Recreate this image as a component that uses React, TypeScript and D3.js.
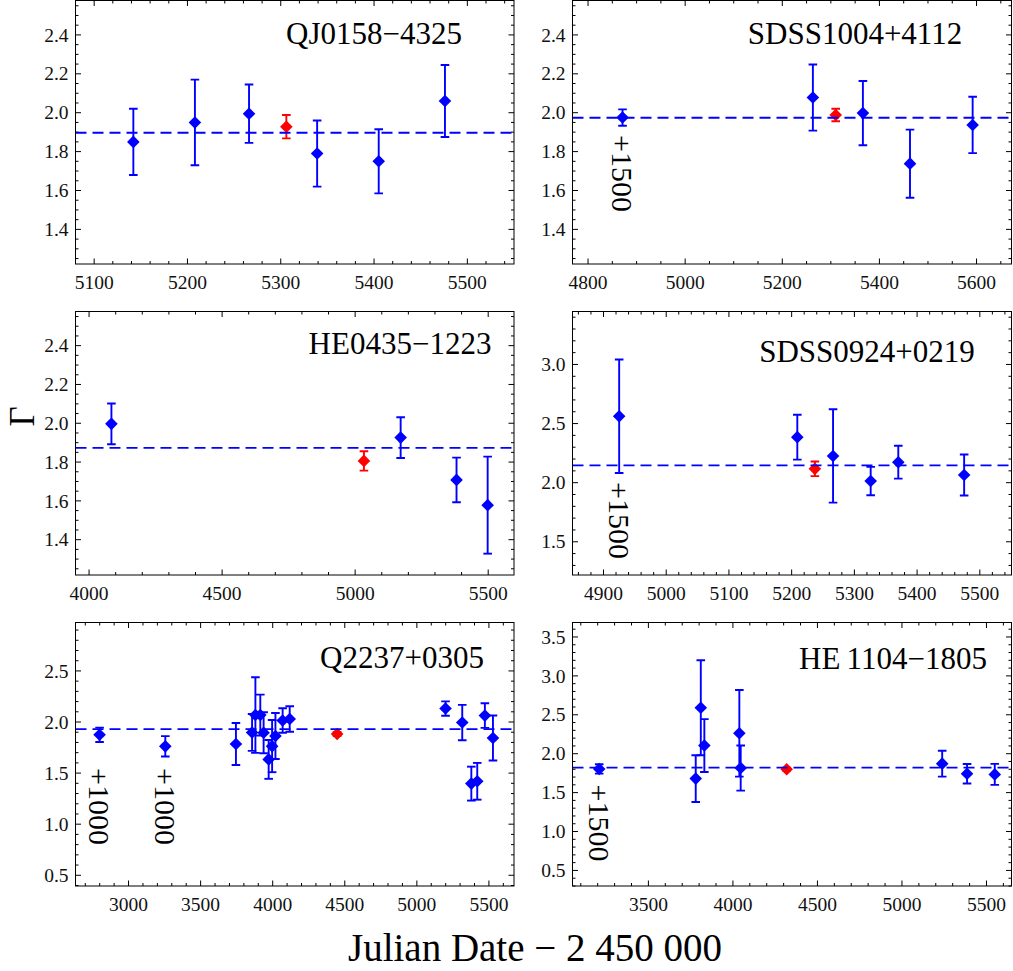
import React from "react";
import * as d3 from "d3";

// ---------- DATA ----------
// QJ0158-4325
const qj0158Date = [5142, 5208, 5266, 5339, 5405, 5476];
const qj0158Gamma = [1.85, 1.95, 1.995, 1.79, 1.75, 2.06];
const qj0158Err = [0.17, 0.22, 0.15, 0.17, 0.165, 0.185];
const qj0158Red = { date: 5306, gamma: 1.928, err: 0.06 };
const qj0158Mean = 1.897;

// SDSS1004+4112
const sdss1004Date = [4871, 5263, 5366, 5463, 5592];
const sdss1004Gamma = [1.975, 2.078, 1.998, 1.738, 1.937];
const sdss1004Err = [0.042, 0.17, 0.165, 0.175, 0.145];
const sdss1004Red = { date: 5310, gamma: 1.988, err: 0.032 };
const sdss1004Mean = 1.974;

// HE0435-1223
const he0435Date = [4084, 5171, 5381, 5498];
const he0435Gamma = [1.997, 1.926, 1.708, 1.578];
const he0435Err = [0.105, 0.105, 0.115, 0.25];
const he0435Red = { date: 5033, gamma: 1.806, err: 0.05 };
const he0435Mean = 1.873;

// SDSS0924+0219
const sdss0924Date = [4925, 5209, 5266, 5326, 5370, 5475];
const sdss0924Gamma = [2.562, 2.385, 2.226, 2.014, 2.173, 2.065];
const sdss0924Err = [0.48, 0.19, 0.395, 0.12, 0.139, 0.173];
const sdss0924Red = { date: 5237, gamma: 2.117, err: 0.062 };
const sdss0924Mean = 2.147;

// Q2237+0305
const q2237Date = [2799, 3255, 3745, 3857, 3880, 3914, 3937, 3972, 3996, 4019, 4069, 4118, 5199, 5315, 5378, 5419, 5472, 5528];
const q2237Gamma = [1.875, 1.762, 1.785, 1.898, 2.068, 2.068, 1.895, 1.634, 1.764, 1.863, 2.015, 2.03, 2.132, 1.995, 1.397, 1.42, 2.063, 1.844];
const q2237Err = [0.07, 0.1, 0.205, 0.18, 0.37, 0.2, 0.2, 0.19, 0.255, 0.225, 0.12, 0.125, 0.07, 0.173, 0.166, 0.18, 0.12, 0.22];
const q2237Red = { date: 4447, gamma: 1.883, err: 0.02 };
const q2237Mean = 1.93;

// HE 1104-1805
const he1104Date = [3209, 3780, 3810, 3831, 4038, 4046, 5238, 5385, 5549];
const he1104Gamma = [1.804, 1.68, 2.59, 2.105, 2.262, 1.816, 1.872, 1.743, 1.734];
const he1104Err = [0.06, 0.3, 0.61, 0.34, 0.557, 0.29, 0.166, 0.125, 0.135];
const he1104Red = { date: 4318, gamma: 1.8, err: 0.02 };
const he1104Mean = 1.82;

// tick values
const ticksX1 = [5100, 5200, 5300, 5400, 5500];
const ticksX2 = [4800, 5000, 5200, 5400, 5600];
const ticksX3 = [4000, 4500, 5000, 5500];
const ticksX4 = [4900, 5000, 5100, 5200, 5300, 5400, 5500];
const ticksX5 = [3000, 3500, 4000, 4500, 5000, 5500];
const ticksX6 = [3500, 4000, 4500, 5000, 5500];
const ticksYA = [1.4, 1.6, 1.8, 2.0, 2.2, 2.4];
const ticksY4 = [1.5, 2.0, 2.5, 3.0];
const ticksY5 = [0.5, 1.0, 1.5, 2.0, 2.5];
const ticksY6 = [0.5, 1.0, 1.5, 2.0, 2.5, 3.0, 3.5];

// offset annotations (data coords)
const notes2 = [{ date: 4871, gamma: 1.687, text: "+1500" }];
const notes4 = [{ date: 4925, gamma: 1.68, text: "+1500" }];
const notes5 = [
  { date: 2799, gamma: 1.173, text: "+1000" },
  { date: 3255, gamma: 1.173, text: "+1000" },
];
const notes6 = [{ date: 3209, gamma: 1.109, text: "+1500" }];

// ---------- LAYOUT ----------
const W = 1013;
const H = 971;
const COLS = [
  [75.5, 514],
  [572.5, 1011.5],
];
const ROWS = [
  [0.5, 264],
  [311.5, 575],
  [622.5, 886],
];
const FONT = "Liberation Serif, Times New Roman, serif";
const BLUE = "#0000ff";
const RED = "#ff0000";

type Note = { date: number; gamma: number; text: string };
type Spec = {
  label: string;
  labelX: number;
  labelBase: number;
  col: number;
  row: number;
  xDomain: [number, number];
  yDomain: [number, number];
  xTicks: number[];
  xMinor: number;
  yTicks: number[];
  yMinor: number;
  dates: number[];
  gamma: number[];
  err: number[];
  red: { date: number; gamma: number; err: number };
  mean: number;
  notes: Note[];
};

const specs: Spec[] = [
  {
    label: "QJ0158\u22124325", labelX: 374, labelBase: 44, col: 0, row: 0,
    xDomain: [5080, 5550], yDomain: [1.222, 2.577],
    xTicks: ticksX1, xMinor: 20, yTicks: ticksYA, yMinor: 0.05,
    dates: qj0158Date, gamma: qj0158Gamma, err: qj0158Err, red: qj0158Red, mean: qj0158Mean, notes: [],
  },
  {
    label: "SDSS1004+4112", labelX: 855, labelBase: 44, col: 1, row: 0,
    xDomain: [4768, 5672], yDomain: [1.222, 2.577],
    xTicks: ticksX2, xMinor: 50, yTicks: ticksYA, yMinor: 0.05,
    dates: sdss1004Date, gamma: sdss1004Gamma, err: sdss1004Err, red: sdss1004Red, mean: sdss1004Mean, notes: notes2,
  },
  {
    label: "HE0435\u22121223", labelX: 400, labelBase: 354, col: 0, row: 1,
    xDomain: [3949, 5597], yDomain: [1.218, 2.576],
    xTicks: ticksX3, xMinor: 100, yTicks: ticksYA, yMinor: 0.05,
    dates: he0435Date, gamma: he0435Gamma, err: he0435Err, red: he0435Red, mean: he0435Mean, notes: [],
  },
  {
    label: "SDSS0924+0219", labelX: 867, labelBase: 361.5, col: 1, row: 1,
    xDomain: [4850.6, 5550.5], yDomain: [1.219, 3.448],
    xTicks: ticksX4, xMinor: 20, yTicks: ticksY4, yMinor: 0.1,
    dates: sdss0924Date, gamma: sdss0924Gamma, err: sdss0924Err, red: sdss0924Red, mean: sdss0924Mean, notes: notes4,
  },
  {
    label: "Q2237+0305", labelX: 402, labelBase: 667.5, col: 0, row: 2,
    xDomain: [2632, 5674], yDomain: [0.395, 2.974],
    xTicks: ticksX5, xMinor: 100, yTicks: ticksY5, yMinor: 0.1,
    dates: q2237Date, gamma: q2237Gamma, err: q2237Err, red: q2237Red, mean: q2237Mean, notes: notes5,
  },
  {
    label: "HE\u20091104\u22121805", labelX: 893, labelBase: 669, col: 1, row: 2,
    xDomain: [3051, 5648], yDomain: [0.3, 3.686],
    xTicks: ticksX6, xMinor: 100, yTicks: ticksY6, yMinor: 0.1,
    dates: he1104Date, gamma: he1104Gamma, err: he1104Err, red: he1104Red, mean: he1104Mean, notes: notes6,
  },
];

function minorValues(domain: [number, number], step: number, majors: number[]) {
  const out: number[] = [];
  const start = Math.ceil(domain[0] / step);
  const end = Math.floor(domain[1] / step);
  for (let i = start; i <= end; i++) {
    const v = i * step;
    if (majors.some((m) => Math.abs(m - v) < step * 0.01)) continue;
    out.push(v);
  }
  return out;
}

const diamond = (r: number) => `M0,${-r}L${r},0L0,${r}L${-r},0Z`;

function Point({ cx, y, lo, hi, color }: { cx: number; y: number; lo: number; hi: number; color: string }) {
  const cap = 4.3;
  return (
    <g>
      <line x1={cx} x2={cx} y1={lo} y2={hi} stroke={color} strokeWidth={1.9} />
      <line x1={cx - cap} x2={cx + cap} y1={lo} y2={lo} stroke={color} strokeWidth={1.9} />
      <line x1={cx - cap} x2={cx + cap} y1={hi} y2={hi} stroke={color} strokeWidth={1.9} />
      <path d={diamond(6.3)} transform={`translate(${cx},${y})`} fill={color} />
    </g>
  );
}

function Panel({ s }: { s: Spec }) {
  const [x0, x1] = COLS[s.col];
  const [y0, y1] = ROWS[s.row];
  const xs = d3.scaleLinear().domain(s.xDomain).range([x0, x1]);
  const ys = d3.scaleLinear().domain(s.yDomain).range([y1, y0]);
  const xMin = minorValues(s.xDomain, s.xMinor, s.xTicks);
  const yMin = minorValues(s.yDomain, s.yMinor, s.yTicks);
  const MAJ = 5.5;
  const MIN = 3;
  const clipId = `clip-${s.col}-${s.row}`;
  return (
    <g>
      <defs>
        <clipPath id={clipId}>
          <rect x={x0} y={y0} width={x1 - x0} height={y1 - y0} />
        </clipPath>
      </defs>
      <g stroke="#000" strokeWidth={1}>
        {s.xTicks.map((t) => (
          <g key={"xt" + t}>
            <line x1={xs(t)} x2={xs(t)} y1={y1} y2={y1 - MAJ} />
            <line x1={xs(t)} x2={xs(t)} y1={y0} y2={y0 + MAJ} />
          </g>
        ))}
        {xMin.map((t) => (
          <g key={"xm" + t}>
            <line x1={xs(t)} x2={xs(t)} y1={y1} y2={y1 - MIN} />
            <line x1={xs(t)} x2={xs(t)} y1={y0} y2={y0 + MIN} />
          </g>
        ))}
        {s.yTicks.map((t) => (
          <g key={"yt" + t}>
            <line x1={x0} x2={x0 + MAJ} y1={ys(t)} y2={ys(t)} />
            <line x1={x1} x2={x1 - MAJ} y1={ys(t)} y2={ys(t)} />
          </g>
        ))}
        {yMin.map((t) => (
          <g key={"ym" + t}>
            <line x1={x0} x2={x0 + MIN} y1={ys(t)} y2={ys(t)} />
            <line x1={x1} x2={x1 - MIN} y1={ys(t)} y2={ys(t)} />
          </g>
        ))}
      </g>
      {s.xTicks.map((t) => (
        <text
          key={"xl" + t}
          x={xs(t)}
          y={y1 + 25}
          textAnchor="middle"
          style={{ fontFamily: FONT, fontSize: "19.5px" }}
          fill="#111"
        >
          {String(t)}
        </text>
      ))}
      {s.yTicks.map((t) => (
        <text
          key={"yl" + t}
          x={x0 - 7}
          y={ys(t)}
          dy="0.34em"
          textAnchor="end"
          style={{ fontFamily: FONT, fontSize: "19.5px" }}
          fill="#111"
        >
          {t.toFixed(1)}
        </text>
      ))}
      <g clipPath={`url(#${clipId})`}>
        {s.dates.map((d, i) => (
          <Point
            key={"p" + i}
            cx={xs(d)}
            y={ys(s.gamma[i])}
            lo={ys(s.gamma[i] - s.err[i])}
            hi={ys(s.gamma[i] + s.err[i])}
            color={BLUE}
          />
        ))}
        <Point
          cx={xs(s.red.date)}
          y={ys(s.red.gamma)}
          lo={ys(s.red.gamma - s.red.err)}
          hi={ys(s.red.gamma + s.red.err)}
          color={RED}
        />
        <line
          x1={x0}
          x2={x1}
          y1={ys(s.mean)}
          y2={ys(s.mean)}
          stroke={BLUE}
          strokeWidth={1.8}
          strokeDasharray="11,6"
        />
      </g>
      <rect x={x0} y={y0} width={x1 - x0} height={y1 - y0} fill="none" stroke="#000" strokeWidth={1} />
      <text
        x={s.labelX}
        y={s.labelBase}
        textAnchor="middle"
        style={{ fontFamily: FONT, fontSize: "31px" }}
        fill="#000"
      >
        {s.label}
      </text>
      {s.notes.map((n, i) => (
        <text
          key={"n" + i}
          transform={`translate(${xs(n.date)},${ys(n.gamma)}) rotate(90)`}
          dy="0.34em"
          textAnchor="middle"
          style={{ fontFamily: FONT, fontSize: "30px" }}
          fill="#000"
        >
          {n.text}
        </text>
      ))}
    </g>
  );
}

export default function App() {
  return (
    <svg
      width={W}
      height={H}
      viewBox={`0 0 ${W} ${H}`}
      style={{ position: "absolute", left: 0, top: 0, display: "block", background: "#fff" }}
    >
      <rect x={0} y={0} width={W} height={H} fill="#fff" />
      {specs.map((s, i) => (
        <Panel key={i} s={s} />
      ))}
      <text
        transform="translate(22.5,416.5) rotate(-90)"
        dy="0.34em"
        textAnchor="middle"
        style={{ fontFamily: FONT, fontSize: "35px" }}
        fill="#000"
      >
        Γ
      </text>
      <text
        x={535}
        y={960.5}
        textAnchor="middle"
        style={{ fontFamily: FONT, fontSize: "39px" }}
        fill="#000"
      >
        Julian Date − 2 450 000
      </text>
    </svg>
  );
}
